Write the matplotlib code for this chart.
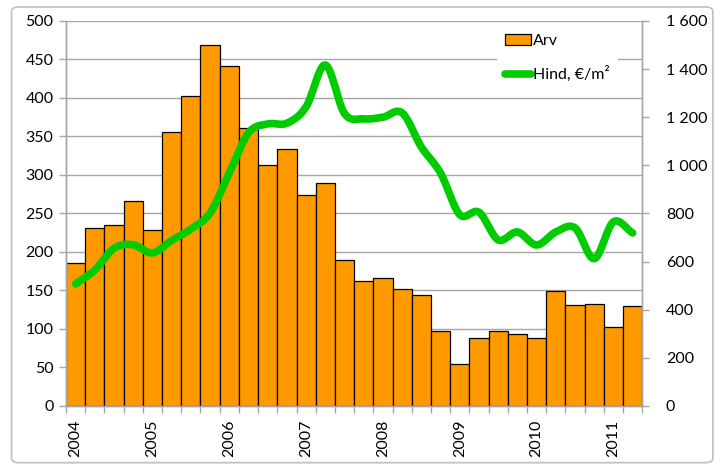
import numpy as np
import matplotlib.pyplot as plt
from matplotlib.patches import FancyBboxPatch, Patch
from matplotlib.lines import Line2D
from matplotlib.ticker import FuncFormatter, FixedLocator

plt.rcParams['font.family'] = ['Lato', 'DejaVu Sans']

# quarterly data, 2004 Q1 .. 2011 Q2
arv = [186, 231, 235, 266, 229, 356, 402, 469, 442, 361, 313, 334, 274, 289, 190,
       162, 166, 152, 144, 97, 54, 88, 97, 94, 88, 149, 131, 132, 103, 130]
hind = [507, 565, 655, 670, 636, 688, 735, 802, 968, 1135, 1172, 1175, 1243, 1417, 1215,
        1193, 1200, 1218, 1076, 968, 795, 805, 690, 723, 669, 723, 740, 612, 765, 719]
years = ['2004', '2005', '2006', '2007', '2008', '2009', '2010', '2011']

BAR_COLOR = '#FF9900'
LINE_COLOR = '#00CC00'
GRID_COLOR = '#A6A6A6'


def smooth(x, y, n=20):
    # Catmull-Rom curve through the points (like a "smoothed line" chart)
    x = np.asarray(x, float)
    y = np.asarray(y, float)
    px = np.concatenate([[2 * x[0] - x[1]], x, [2 * x[-1] - x[-2]]])
    py = np.concatenate([[2 * y[0] - y[1]], y, [2 * y[-1] - y[-2]]])
    t = np.linspace(0, 1, n, endpoint=False)
    xs, ys = [], []
    for i in range(1, len(px) - 2):
        for p, out in ((px, xs), (py, ys)):
            p0, p1, p2, p3 = p[i - 1], p[i], p[i + 1], p[i + 2]
            out.extend(0.5 * (2 * p1 + (-p0 + p2) * t
                              + (2 * p0 - 5 * p1 + 4 * p2 - p3) * t ** 2
                              + (-p0 + 3 * p1 - 3 * p2 + p3) * t ** 3))
    xs.append(x[-1])
    ys.append(y[-1])
    return np.array(xs), np.array(ys)


x = np.arange(len(arv))

fig = plt.figure(figsize=(7.23, 4.65), dpi=100)
fig.patches.append(FancyBboxPatch((0.016, 0.005), 0.97, 0.98, boxstyle='round,pad=0,rounding_size=0.01',
                                  transform=fig.transFigure, facecolor='none',
                                  edgecolor='#BFBFBF', linewidth=1.2))
ax = fig.add_axes([0.0913, 0.127, 0.797, 0.828])
ax2 = ax.twinx()

ax.bar(x, arv, width=1.0, color=BAR_COLOR, edgecolor='black', linewidth=0.9, zorder=2)
ax.set_xlim(-0.5, len(arv) - 0.5)
ax.set_ylim(0, 500)
ax.set_yticks(np.arange(0, 501, 50))
ax.yaxis.grid(True, color=GRID_COLOR, linewidth=1.0)
ax.set_axisbelow(True)

# year labels under each Q1 bar, tick marks on the category boundaries
ax.set_xticks(x[::4])
ax.set_xticklabels(years, rotation=90)
ax.xaxis.set_minor_locator(FixedLocator(np.arange(-0.5, len(arv), 1.0)))
ax.tick_params(axis='x', which='major', length=0, pad=10, labelsize=11.5)
ax.tick_params(axis='x', which='minor', length=5, color=GRID_COLOR, width=1)
ax.tick_params(axis='y', length=5, color=GRID_COLOR, width=1, labelsize=11.5, pad=4)

sx, sy = smooth(x, hind)
ax2.plot(sx, sy, color=LINE_COLOR, linewidth=5.5, solid_capstyle='round', solid_joinstyle='round')
ax2.set_ylim(0, 1600)
ax2.set_yticks(np.arange(0, 1601, 200))
ax2.yaxis.set_major_formatter(FuncFormatter(lambda v, p: '{:,}'.format(int(v)).replace(',', ' ')))
ax2.tick_params(axis='y', length=5, color=GRID_COLOR, width=1, labelsize=11.5, pad=12)

for a in (ax, ax2):
    a.spines['top'].set_visible(False)
    for s in ('left', 'right', 'bottom'):
        a.spines[s].set_color(GRID_COLOR)
        a.spines[s].set_linewidth(1.0)

handles = [Patch(facecolor=BAR_COLOR, edgecolor='black', linewidth=0.9),
           Line2D([], [], color=LINE_COLOR, linewidth=5.5, solid_capstyle='round')]
leg = ax2.legend(handles, ['Arv', 'Hind, €/m²'], loc='upper left',
                 bbox_to_anchor=(0.688, 0.945), bbox_transform=fig.transFigure,
                 frameon=True, fancybox=False, framealpha=1, edgecolor='white',
                 fontsize=11.5, handlelength=1.6, handletextpad=0.15,
                 labelspacing=1.15, borderpad=0.5, borderaxespad=0)
leg.get_frame().set_linewidth(0)

fig.savefig('out.png', dpi=100)
